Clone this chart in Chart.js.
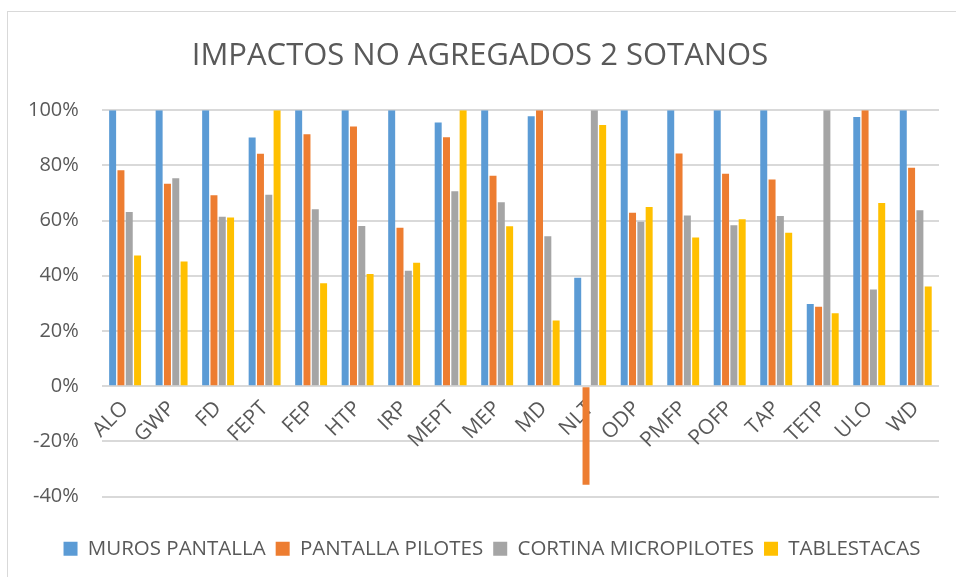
<!DOCTYPE html>
<html>
<head>
<meta charset="utf-8">
<script src="https://cdn.jsdelivr.net/npm/chart.js@4"></script>
<style>
  html,body{margin:0;padding:0;background:#fff;}
  #frame{position:absolute;left:7px;top:11px;width:970px;height:590px;border:1px solid #d9d9d9;}
  #wrap{position:absolute;left:0;top:0;width:956px;height:577px;}
</style>
</head>
<body>
<div id="frame"></div>
<div id="wrap"><canvas id="c"></canvas></div>
<script>
// categories and series (percent)
const categories = ['ALO','GWP','FD','FEPT','FEP','HTP','IRP','MEPT','MEP','MD','NLT','ODP','PMFP','POFP','TAP','TETP','ULO','WD'];
const murosPantalla      = [100, 100, 100, 90.1, 100, 100, 100, 95.5, 100, 97.8, 39.3, 100, 100, 100, 100, 29.8, 97.5, 100];
const pantallaPilotes    = [78.2, 73.3, 69.2, 84.2, 91.3, 94.1, 57.4, 90.2, 76.2, 100, -35.7, 62.8, 84.3, 77.0, 74.9, 28.8, 100, 79.1];
const cortinaMicropilotes= [63.1, 75.3, 61.4, 69.4, 64.1, 58.0, 41.8, 70.6, 66.6, 54.3, 100, 59.6, 61.8, 58.3, 61.7, 100, 35.0, 63.7];
const tablestacas        = [47.3, 45.2, 61.1, 100, 37.3, 40.6, 44.7, 100, 57.9, 23.8, 94.6, 64.9, 53.9, 60.5, 55.6, 26.4, 66.4, 36.1];
const seriesNames = ['MUROS PANTALLA','PANTALLA PILOTES','CORTINA MICROPILOTES','TABLESTACAS'];
const seriesColors = ['#5b9bd5','#ed7d31','#a5a5a5','#ffc000'];
const yTicks = [-40, -20, 0, 20, 40, 60, 80, 100];

const txt = '#595959';
const fam = '"Open Sans", sans-serif';

const datasets = [murosPantalla, pantallaPilotes, cortinaMicropilotes, tablestacas].map((d, i) => ({
  label: seriesNames[i],
  data: d,
  backgroundColor: seriesColors[i],
  barPercentage: 0.84,
  categoryPercentage: 0.715
}));

// nudge title and legend to the right, they sit centred on the whole frame in the original
const nudge = {
  id: 'nudge',
  afterLayout(chart) {
    [[chart.titleBlock, 8], [chart.legend, 20]].forEach(([b, dx]) => {
      if (b) { b.left += dx; b.right += dx; }
    });
  }
};

new Chart(document.getElementById('c'), {
  type: 'bar',
  data: { labels: categories, datasets },
  plugins: [nudge],
  options: {
    responsive: true,
    maintainAspectRatio: false,
    animation: false,
    layout: { padding: { left: 5, right: 17, top: 10, bottom: 8 } },
    plugins: {
      title: {
        display: true,
        text: 'IMPACTOS NO AGREGADOS 2 SOTANOS',
        color: txt,
        font: { family: fam, size: 31, weight: 'normal' },
        padding: { top: 28, bottom: 35 }
      },
      legend: {
        position: 'bottom',
        labels: {
          color: txt,
          font: { family: fam, size: 20.5 },
          boxWidth: 14, boxHeight: 14,
          padding: 10
        }
      },
      tooltip: { enabled: false }
    },
    scales: {
      x: {
        position: { y: 0 },
        grid: { display: false },
        border: { display: false },
        ticks: {
          color: txt,
          font: { family: fam, size: 21 },
          minRotation: 45, maxRotation: 45,
          autoSkip: false,
          padding: 2
        }
      },
      // empty bottom band between the plot and the legend
      xb: {
        type: 'category',
        position: 'bottom',
        grid: { display: false },
        border: { display: false },
        ticks: { display: false },
        afterFit: s => { s.height = 32; }
      },
      y: {
        min: -40, max: 100,
        afterBuildTicks: s => { s.ticks = yTicks.map(v => ({ value: v })); },
        grid: { color: '#d9d9d9', lineWidth: 2, drawTicks: false },
        border: { display: false },
        ticks: {
          color: txt,
          font: { family: fam, size: 20 },
          padding: 23,
          callback: v => v + '%'
        }
      }
    }
  }
});
</script>
</body>
</html>
